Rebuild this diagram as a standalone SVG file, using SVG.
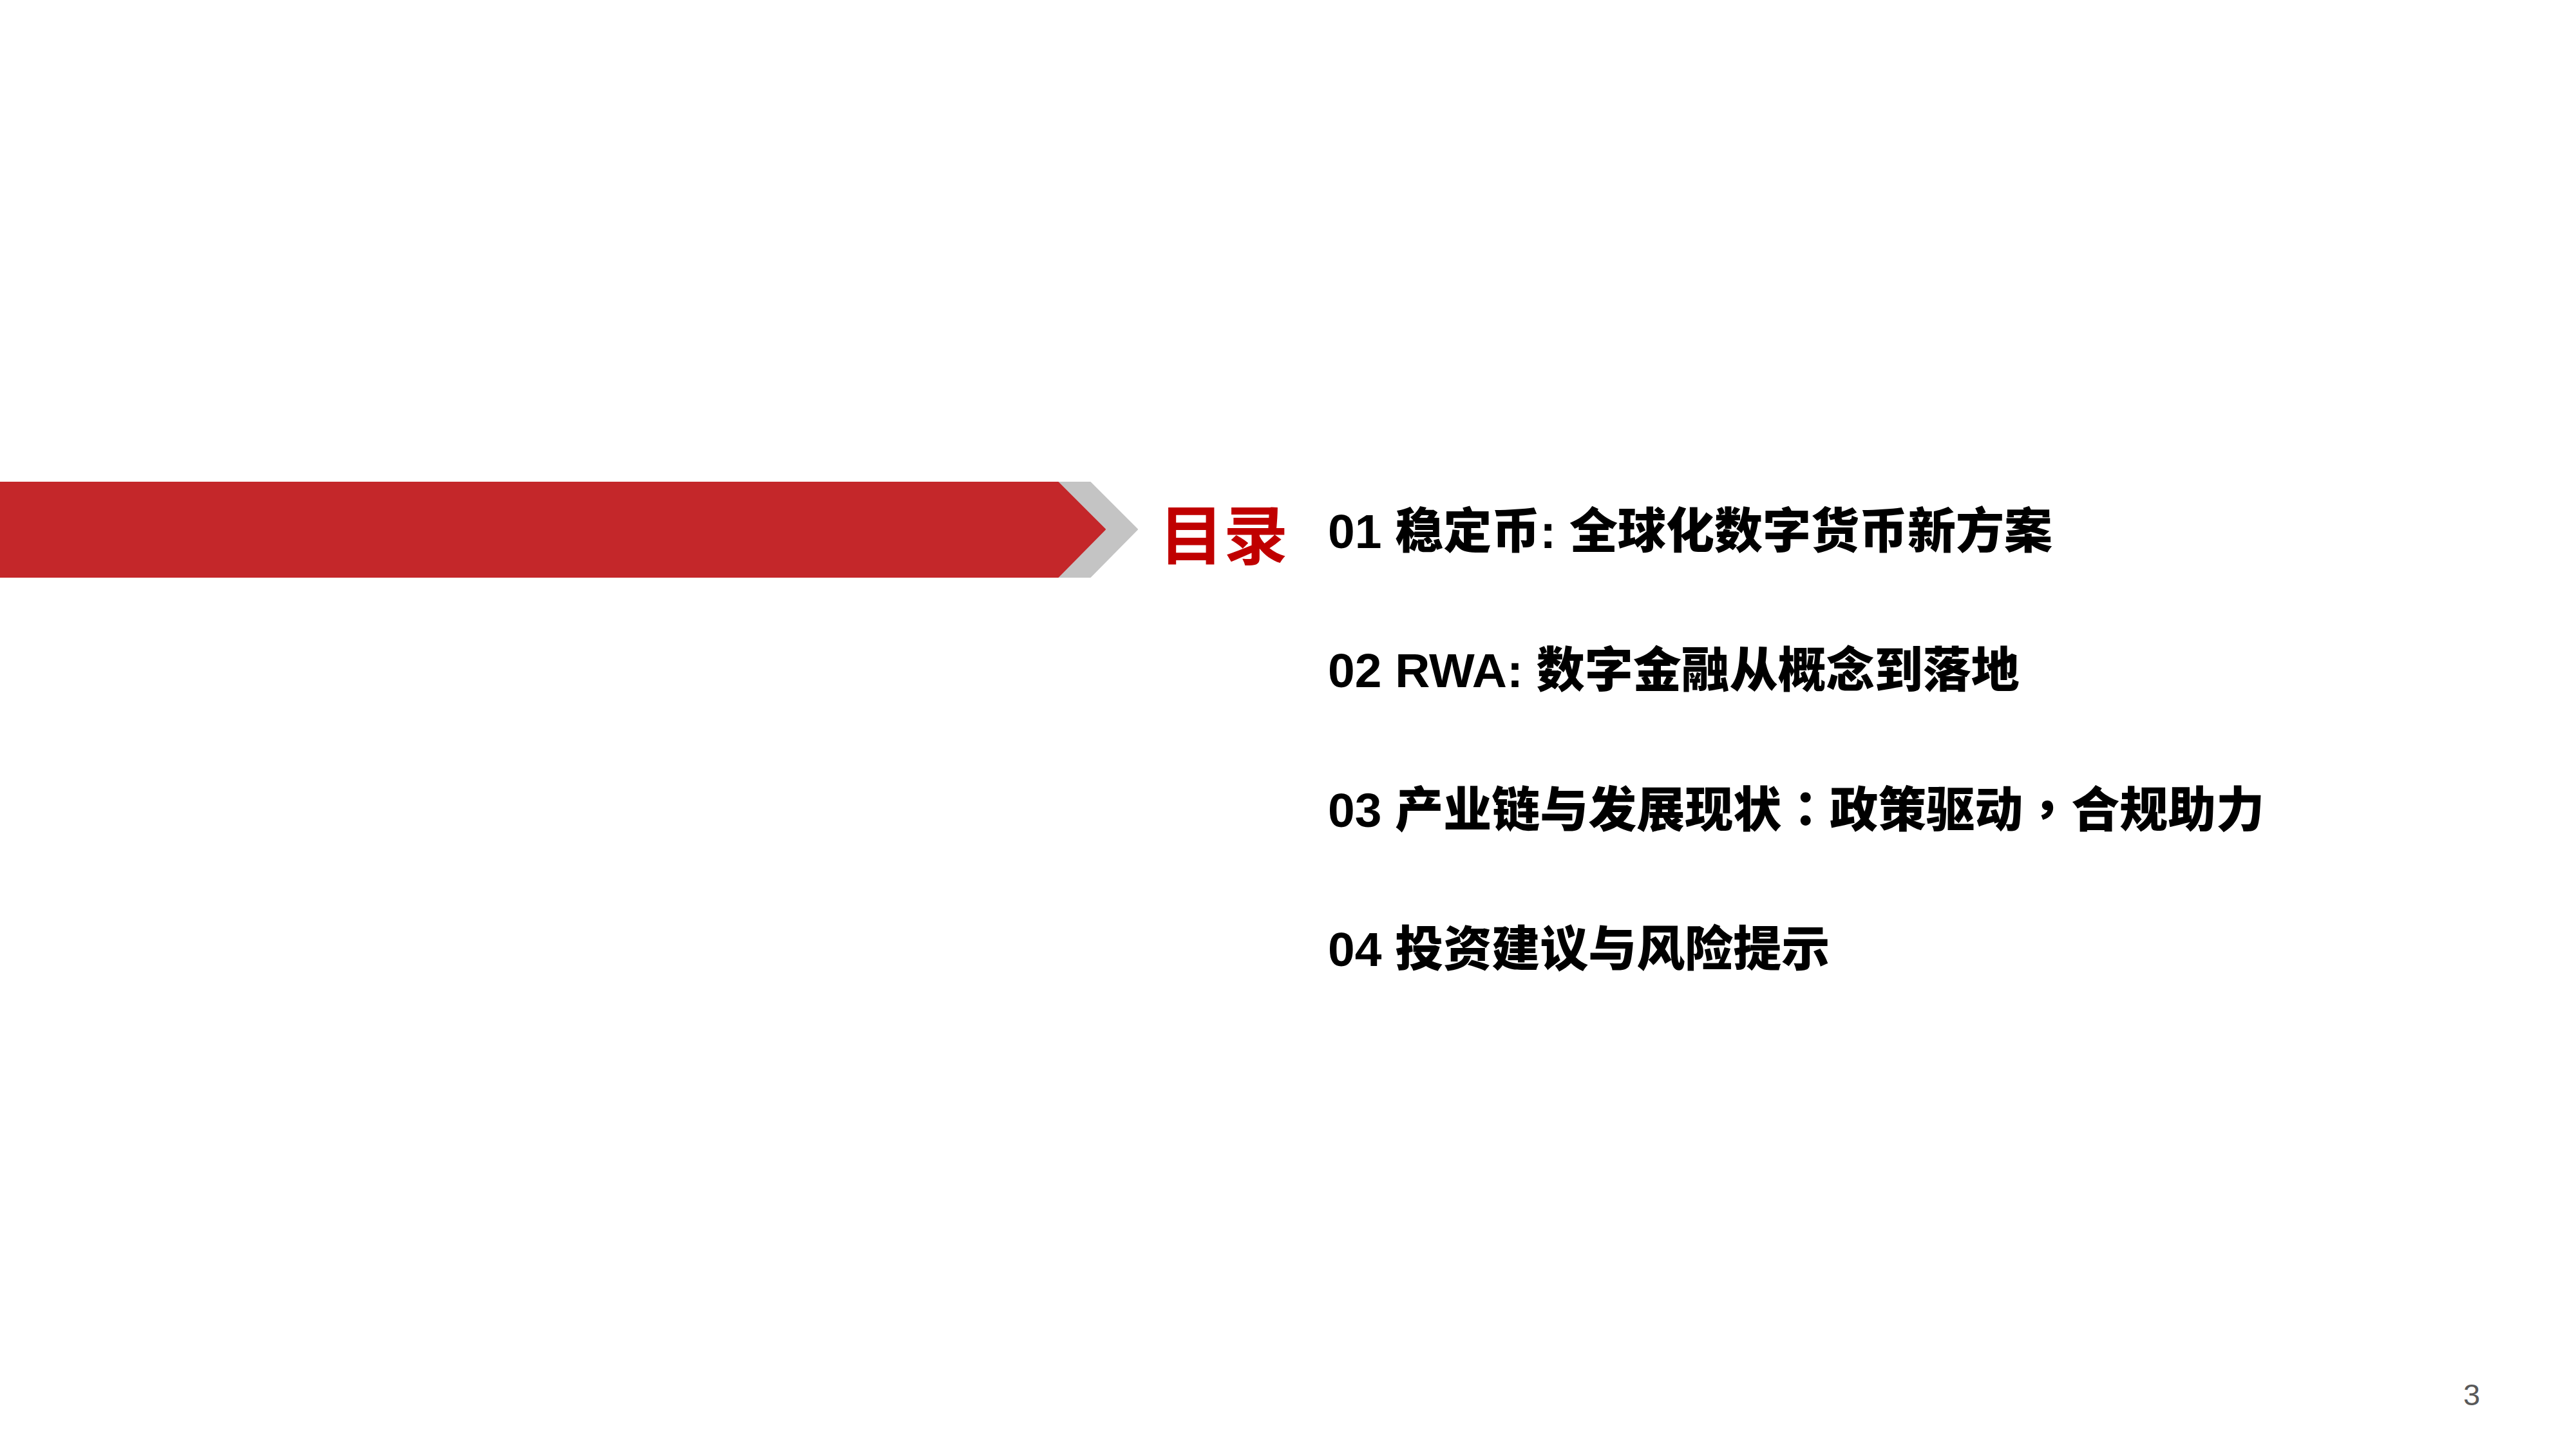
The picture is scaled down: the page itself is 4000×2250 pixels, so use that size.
<svg xmlns="http://www.w3.org/2000/svg" width="4000" height="2250" viewBox="0 0 4000 2250">
  <style>
    .item { font-family: "Liberation Sans", "Noto Sans CJK SC", sans-serif; font-weight: 900; font-size: 75px; fill: #000000; }
    .tc { font-family: "Noto Sans CJK TC", sans-serif; }
    .title { font-family: "Noto Sans CJK SC", sans-serif; font-weight: bold; font-size: 100px; fill: #C00000; }
    .page { font-family: "Liberation Sans", sans-serif; font-size: 47px; fill: #595959; }
  </style>
  <rect x="0" y="0" width="4000" height="2250" fill="#FFFFFF"/>
  <g id="banner">
    <polygon points="1643,749 1693,749 1766,822 1693,896 1643,896 1716,822" fill="#C4C4C4" stroke="#C4C4C4" stroke-width="2" stroke-linejoin="round"/>
    <polygon points="0,749 1643,749 1716,822 1643,896 0,896" fill="#C4272A" stroke="#C4272A" stroke-width="2" stroke-linejoin="round"/>
  </g>
  <g id="title">
    <text class="title" x="1800" y="868">目录</text>
  </g>
  <g id="item-01">
    <text class="item" x="2062" y="851">01 稳定币: 全球化数字货币新方案</text>
  </g>
  <g id="item-02">
    <text class="item" x="2062" y="1067">02 RWA: 数字金融从概念到落地</text>
  </g>
  <g id="item-03">
    <text class="item" x="2062" y="1284">03 产业链与发展现状<tspan class="tc">：</tspan>政策驱动<tspan class="tc">，</tspan>合规助力</text>
  </g>
  <g id="item-04">
    <text class="item" x="2062" y="1500">04 投资建议与风险提示</text>
  </g>
  <g id="page-number">
    <text class="page" x="3825" y="2182">3</text>
  </g>
</svg>
